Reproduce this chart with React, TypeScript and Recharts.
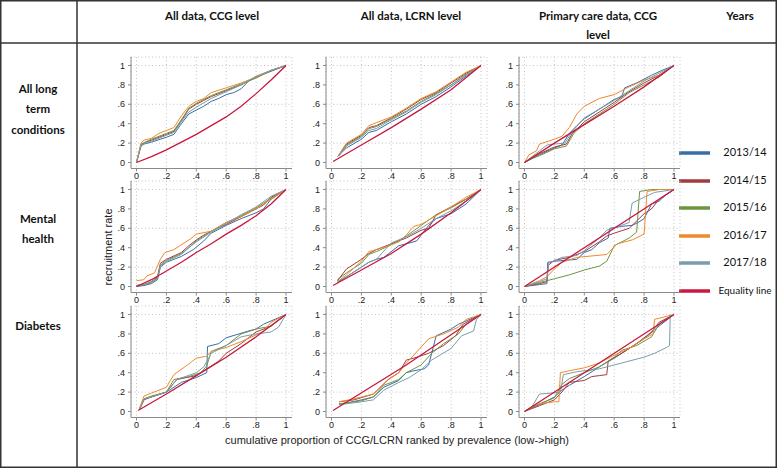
import { LineChart, Line, XAxis, YAxis, CartesianGrid } from "recharts";

type P = [number, number][];

const YEARS = ["2013/14", "2014/15", "2015/16", "2016/17", "2017/18"];
const YEAR_COLORS = ["#3a6ea5", "#a23b3e", "#6f9440", "#ec8a2a", "#7a9dab"];
const EQ_LABEL = "Equality line";
const EQ_COLOR = "#c8183f";

const COL_TITLES = [["All data, CCG level"], ["All data, LCRN level"], ["Primary care data, CCG", "level"]];
const ROW_TITLES = [["All long", "term", "conditions"], ["Mental", "health"], ["Diabetes"]];
const TICKS = [0, 0.2, 0.4, 0.6, 0.8, 1];
const Y_TITLE = "recruitment rate";
const X_TITLE = "cumulative proportion of CCG/LCRN ranked by prevalence (low->high)";

const DIAGONAL: P = [[0, 0], [1, 1]];

// All long term conditions, all data, CCG
const LTC_CCG_1314: P = [[0, 0], [0.03, 0.17], [0.05, 0.19], [0.1, 0.21], [0.2, 0.26], [0.25, 0.29], [0.3, 0.4], [0.35, 0.5], [0.4, 0.54], [0.45, 0.58], [0.5, 0.63], [0.55, 0.66], [0.6, 0.7], [0.65, 0.72], [0.7, 0.76], [0.75, 0.84], [0.8, 0.88], [0.9, 0.94], [1, 1]];
const LTC_CCG_1415: P = [[0, 0], [0.03, 0.18], [0.06, 0.21], [0.1, 0.23], [0.2, 0.29], [0.25, 0.32], [0.3, 0.43], [0.35, 0.55], [0.4, 0.6], [0.45, 0.64], [0.5, 0.68], [0.6, 0.74], [0.7, 0.8], [0.8, 0.88], [0.9, 0.95], [1, 1]];
const LTC_CCG_1516: P = [[0, 0], [0.03, 0.19], [0.06, 0.21], [0.1, 0.24], [0.2, 0.3], [0.25, 0.33], [0.3, 0.44], [0.35, 0.56], [0.4, 0.61], [0.5, 0.69], [0.6, 0.75], [0.7, 0.81], [0.8, 0.87], [0.9, 0.95], [1, 1]];
const LTC_CCG_1617: P = [[0, 0], [0.03, 0.2], [0.05, 0.23], [0.1, 0.25], [0.15, 0.3], [0.2, 0.33], [0.25, 0.36], [0.3, 0.48], [0.35, 0.58], [0.4, 0.63], [0.45, 0.66], [0.5, 0.72], [0.6, 0.77], [0.7, 0.82], [0.8, 0.88], [0.9, 0.95], [1, 1]];
const LTC_CCG_1718: P = [[0, 0], [0.03, 0.18], [0.06, 0.2], [0.1, 0.22], [0.2, 0.28], [0.25, 0.31], [0.3, 0.42], [0.35, 0.52], [0.4, 0.57], [0.5, 0.66], [0.6, 0.73], [0.7, 0.8], [0.8, 0.89], [0.9, 0.95], [1, 1]];
const LTC_CCG_EQ: P = [[0, 0], [0.1, 0.06], [0.2, 0.13], [0.3, 0.21], [0.4, 0.29], [0.5, 0.38], [0.6, 0.47], [0.7, 0.58], [0.8, 0.71], [0.9, 0.85], [1, 1]];

// All long term conditions, all data, LCRN
const LTC_LCRN_1314: P = [[0.04, 0.06], [0.1, 0.15], [0.2, 0.24], [0.25, 0.31], [0.3, 0.33], [0.4, 0.42], [0.5, 0.5], [0.6, 0.6], [0.7, 0.68], [0.8, 0.78], [0.9, 0.89], [1, 1]];
const LTC_LCRN_1415: P = [[0.05, 0.08], [0.1, 0.19], [0.2, 0.28], [0.25, 0.36], [0.3, 0.38], [0.4, 0.46], [0.5, 0.55], [0.6, 0.65], [0.7, 0.72], [0.8, 0.82], [0.9, 0.92], [1, 1]];
const LTC_LCRN_1516: P = [[0.05, 0.07], [0.1, 0.18], [0.2, 0.27], [0.25, 0.35], [0.3, 0.37], [0.4, 0.45], [0.5, 0.53], [0.6, 0.63], [0.7, 0.71], [0.8, 0.8], [0.9, 0.91], [1, 1]];
const LTC_LCRN_1617: P = [[0.05, 0.08], [0.1, 0.2], [0.2, 0.29], [0.25, 0.38], [0.3, 0.41], [0.4, 0.47], [0.5, 0.56], [0.6, 0.66], [0.7, 0.73], [0.8, 0.83], [0.9, 0.93], [1, 1]];
const LTC_LCRN_1718: P = [[0.05, 0.07], [0.1, 0.17], [0.2, 0.26], [0.25, 0.33], [0.3, 0.35], [0.4, 0.44], [0.5, 0.52], [0.6, 0.62], [0.7, 0.7], [0.8, 0.8], [0.9, 0.9], [1, 1]];
const LTC_LCRN_EQ: P = [[0.01, 0.01], [0.2, 0.18], [0.4, 0.36], [0.6, 0.55], [0.8, 0.75], [1, 1]];

// All long term conditions, primary care data, CCG
const LTC_PC_1314: P = [[0, 0], [0.05, 0.04], [0.1, 0.08], [0.2, 0.15], [0.25, 0.18], [0.3, 0.3], [0.35, 0.38], [0.4, 0.45], [0.5, 0.55], [0.6, 0.65], [0.65, 0.68], [0.67, 0.77], [0.75, 0.82], [0.85, 0.9], [0.92, 0.95], [1, 1]];
const LTC_PC_1415: P = [[0, 0], [0.05, 0.05], [0.1, 0.09], [0.2, 0.16], [0.28, 0.19], [0.32, 0.3], [0.4, 0.42], [0.5, 0.52], [0.6, 0.62], [0.7, 0.73], [0.8, 0.82], [0.9, 0.9], [1, 1]];
const LTC_PC_1516: P = [[0, 0], [0.05, 0.04], [0.1, 0.07], [0.2, 0.14], [0.28, 0.17], [0.33, 0.3], [0.4, 0.4], [0.5, 0.5], [0.6, 0.6], [0.7, 0.72], [0.8, 0.8], [0.9, 0.88], [1, 1]];
const LTC_PC_1617: P = [[0, 0], [0.03, 0.08], [0.08, 0.12], [0.1, 0.19], [0.2, 0.24], [0.25, 0.27], [0.3, 0.36], [0.35, 0.5], [0.4, 0.58], [0.5, 0.66], [0.6, 0.7], [0.7, 0.78], [0.8, 0.85], [0.9, 0.9], [1, 1]];
const LTC_PC_1718: P = [[0, 0], [0.05, 0.06], [0.1, 0.12], [0.15, 0.18], [0.2, 0.19], [0.27, 0.2], [0.32, 0.32], [0.4, 0.46], [0.5, 0.55], [0.6, 0.64], [0.7, 0.74], [0.8, 0.84], [0.9, 0.92], [1, 1]];
const LTC_PC_EQ: P = [[0, 0], [0.2, 0.2], [0.4, 0.39], [0.6, 0.58], [0.8, 0.78], [1, 1]];

// Mental health, all data, CCG
const MH_CCG_1314: P = [[0, 0], [0.05, 0.01], [0.1, 0.03], [0.14, 0.07], [0.16, 0.2], [0.2, 0.25], [0.3, 0.31], [0.38, 0.38], [0.45, 0.47], [0.5, 0.55], [0.6, 0.63], [0.7, 0.7], [0.8, 0.76], [0.85, 0.8], [0.9, 0.9], [1, 1]];
const MH_CCG_1415: P = [[0, 0.01], [0.05, 0.02], [0.1, 0.05], [0.14, 0.1], [0.16, 0.24], [0.2, 0.28], [0.3, 0.35], [0.35, 0.42], [0.4, 0.48], [0.45, 0.53], [0.5, 0.57], [0.6, 0.64], [0.7, 0.72], [0.8, 0.8], [0.85, 0.84], [0.9, 0.92], [1, 1]];
const MH_CCG_1516: P = [[0, 0.01], [0.05, 0.02], [0.1, 0.04], [0.14, 0.09], [0.16, 0.22], [0.2, 0.27], [0.3, 0.34], [0.35, 0.4], [0.4, 0.47], [0.5, 0.57], [0.6, 0.66], [0.7, 0.73], [0.8, 0.81], [0.9, 0.91], [1, 1]];
const MH_CCG_1617: P = [[0, 0.06], [0.05, 0.07], [0.07, 0.11], [0.12, 0.14], [0.16, 0.28], [0.19, 0.35], [0.25, 0.38], [0.29, 0.42], [0.36, 0.49], [0.4, 0.54], [0.5, 0.57], [0.6, 0.66], [0.7, 0.72], [0.8, 0.8], [0.85, 0.85], [0.9, 0.9], [1, 1]];
const MH_CCG_1718: P = [[0, 0.01], [0.05, 0.02], [0.1, 0.04], [0.14, 0.08], [0.16, 0.21], [0.2, 0.26], [0.3, 0.33], [0.35, 0.4], [0.4, 0.46], [0.5, 0.56], [0.6, 0.65], [0.7, 0.74], [0.8, 0.82], [0.9, 0.93], [1, 1]];
const MH_CCG_EQ: P = [[0, 0], [0.1, 0.07], [0.2, 0.16], [0.3, 0.25], [0.4, 0.35], [0.5, 0.44], [0.6, 0.54], [0.7, 0.63], [0.8, 0.73], [0.9, 0.85], [1, 1]];

// Mental health, all data, LCRN
const MH_LCRN_1314: P = [[0.04, 0.04], [0.1, 0.1], [0.2, 0.2], [0.25, 0.25], [0.3, 0.28], [0.35, 0.3], [0.45, 0.42], [0.5, 0.44], [0.57, 0.47], [0.65, 0.63], [0.7, 0.7], [0.8, 0.75], [0.9, 0.85], [1, 1]];
const MH_LCRN_1415: P = [[0.04, 0.06], [0.1, 0.18], [0.2, 0.28], [0.25, 0.34], [0.3, 0.38], [0.4, 0.44], [0.5, 0.5], [0.6, 0.58], [0.65, 0.6], [0.7, 0.74], [0.8, 0.82], [0.9, 0.9], [1, 1]];
const MH_LCRN_1516: P = [[0.04, 0.07], [0.1, 0.14], [0.2, 0.24], [0.25, 0.33], [0.3, 0.36], [0.4, 0.43], [0.5, 0.52], [0.6, 0.63], [0.7, 0.74], [0.8, 0.81], [0.9, 0.9], [1, 1]];
const MH_LCRN_1617: P = [[0.04, 0.05], [0.1, 0.12], [0.2, 0.26], [0.25, 0.36], [0.3, 0.38], [0.4, 0.43], [0.45, 0.46], [0.5, 0.53], [0.55, 0.62], [0.6, 0.64], [0.7, 0.73], [0.8, 0.82], [0.9, 0.92], [1, 1]];
const MH_LCRN_1718: P = [[0.04, 0.05], [0.1, 0.1], [0.2, 0.2], [0.25, 0.25], [0.3, 0.28], [0.4, 0.45], [0.5, 0.51], [0.6, 0.6], [0.7, 0.7], [0.8, 0.78], [0.9, 0.88], [1, 1]];
const MH_LCRN_EQ: P = [[0.01, 0.01], [0.2, 0.17], [0.4, 0.34], [0.6, 0.54], [0.8, 0.76], [1, 1]];

// Mental health, primary care data, CCG
const MH_PC_1314: P = [[0, 0], [0.1, 0.02], [0.15, 0.03], [0.155, 0.25], [0.2, 0.26], [0.35, 0.28], [0.4, 0.35], [0.45, 0.38], [0.5, 0.45], [0.56, 0.5], [0.57, 0.6], [0.65, 0.62], [0.72, 0.63], [0.76, 0.66], [0.8, 0.7], [0.85, 0.85], [0.9, 0.88], [0.95, 0.95], [1, 1]];
const MH_PC_1415: P = [[0, 0], [0.1, 0.03], [0.15, 0.05], [0.16, 0.22], [0.2, 0.27], [0.3, 0.3], [0.4, 0.36], [0.5, 0.46], [0.55, 0.52], [0.6, 0.55], [0.7, 0.6], [0.8, 0.75], [0.85, 0.8], [0.9, 0.9], [1, 1]];
const MH_PC_1516: P = [[0, 0], [0.1, 0.04], [0.2, 0.08], [0.3, 0.12], [0.4, 0.17], [0.5, 0.21], [0.55, 0.26], [0.6, 0.42], [0.7, 0.5], [0.75, 0.56], [0.77, 0.98], [0.85, 1], [1, 1]];
const MH_PC_1617: P = [[0, 0], [0.1, 0.06], [0.15, 0.1], [0.2, 0.18], [0.25, 0.25], [0.35, 0.3], [0.55, 0.33], [0.62, 0.44], [0.72, 0.48], [0.8, 0.54], [0.82, 0.98], [0.9, 1], [1, 1]];
const MH_PC_1718: P = [[0, 0], [0.1, 0.05], [0.15, 0.08], [0.16, 0.24], [0.25, 0.3], [0.35, 0.32], [0.4, 0.37], [0.5, 0.5], [0.55, 0.58], [0.65, 0.63], [0.7, 0.66], [0.72, 0.86], [0.8, 0.92], [0.87, 0.97], [1, 1]];

// Diabetes, all data, CCG
const DM_CCG_1314: P = [[0.02, 0.02], [0.05, 0.13], [0.1, 0.15], [0.2, 0.2], [0.3, 0.3], [0.4, 0.35], [0.47, 0.4], [0.475, 0.67], [0.55, 0.7], [0.6, 0.76], [0.75, 0.83], [0.8, 0.85], [0.85, 0.9], [1, 1]];
const DM_CCG_1415: P = [[0.02, 0.02], [0.05, 0.12], [0.1, 0.15], [0.2, 0.2], [0.27, 0.33], [0.4, 0.37], [0.48, 0.45], [0.55, 0.52], [0.6, 0.6], [0.7, 0.7], [0.8, 0.82], [0.9, 0.88], [1, 1]];
const DM_CCG_1516: P = [[0.02, 0.03], [0.05, 0.13], [0.1, 0.16], [0.2, 0.2], [0.25, 0.33], [0.35, 0.36], [0.43, 0.4], [0.47, 0.47], [0.5, 0.62], [0.6, 0.68], [0.7, 0.8], [0.8, 0.85], [0.9, 0.88], [1, 1]];
const DM_CCG_1617: P = [[0.02, 0.03], [0.05, 0.16], [0.1, 0.19], [0.2, 0.25], [0.25, 0.38], [0.35, 0.49], [0.4, 0.55], [0.47, 0.57], [0.5, 0.62], [0.6, 0.66], [0.7, 0.72], [0.8, 0.79], [0.85, 0.83], [0.9, 0.92], [1, 1]];
const DM_CCG_1718: P = [[0.02, 0.02], [0.05, 0.13], [0.1, 0.15], [0.2, 0.2], [0.27, 0.33], [0.4, 0.4], [0.45, 0.46], [0.5, 0.6], [0.6, 0.68], [0.7, 0.77], [0.8, 0.8], [0.9, 0.82], [0.95, 0.87], [1, 1]];
const DM_CCG_EQ: P = [[0.01, 0.01], [0.2, 0.18], [0.4, 0.37], [0.6, 0.56], [0.8, 0.77], [1, 1]];

// Diabetes, all data, LCRN
const DM_LCRN_1314: P = [[0.05, 0.07], [0.2, 0.12], [0.28, 0.15], [0.35, 0.25], [0.45, 0.32], [0.5, 0.4], [0.55, 0.42], [0.62, 0.44], [0.65, 0.48], [0.7, 0.78], [0.8, 0.85], [0.85, 0.9], [1, 1]];
const DM_LCRN_1415: P = [[0.05, 0.1], [0.15, 0.12], [0.28, 0.18], [0.38, 0.33], [0.45, 0.4], [0.5, 0.53], [0.55, 0.55], [0.65, 0.6], [0.75, 0.68], [0.83, 0.78], [0.88, 0.9], [1, 1]];
const DM_LCRN_1516: P = [[0.05, 0.08], [0.2, 0.11], [0.28, 0.15], [0.35, 0.27], [0.45, 0.33], [0.5, 0.4], [0.6, 0.48], [0.67, 0.6], [0.75, 0.7], [0.85, 0.8], [0.9, 0.9], [1, 1]];
const DM_LCRN_1617: P = [[0.05, 0.1], [0.15, 0.13], [0.28, 0.18], [0.38, 0.33], [0.45, 0.4], [0.5, 0.5], [0.55, 0.58], [0.65, 0.75], [0.75, 0.8], [0.85, 0.87], [0.9, 0.95], [1, 1]];
const DM_LCRN_1718: P = [[0.05, 0.07], [0.2, 0.1], [0.28, 0.12], [0.35, 0.22], [0.45, 0.3], [0.52, 0.35], [0.6, 0.43], [0.67, 0.53], [0.8, 0.65], [0.87, 0.78], [0.95, 0.83], [0.97, 0.95], [1, 1]];
const DM_LCRN_EQ: P = [[0.01, 0.01], [0.5, 0.48], [1, 1]];

// Diabetes, primary care data, CCG
const DM_PC_1314: P = [[0, 0], [0.05, 0.04], [0.1, 0.07], [0.2, 0.15], [0.25, 0.22], [0.3, 0.27], [0.4, 0.36], [0.5, 0.46], [0.6, 0.55], [0.7, 0.65], [0.8, 0.75], [0.9, 0.88], [1, 1]];
const DM_PC_1415: P = [[0, 0], [0.05, 0.03], [0.1, 0.06], [0.2, 0.12], [0.25, 0.2], [0.3, 0.3], [0.4, 0.32], [0.45, 0.36], [0.5, 0.37], [0.55, 0.38], [0.56, 0.52], [0.65, 0.6], [0.75, 0.7], [0.85, 0.82], [0.9, 0.92], [1, 1]];
const DM_PC_1516: P = [[0, 0], [0.05, 0.04], [0.1, 0.08], [0.2, 0.14], [0.25, 0.28], [0.3, 0.34], [0.4, 0.4], [0.5, 0.46], [0.6, 0.56], [0.65, 0.63], [0.75, 0.68], [0.85, 0.77], [0.9, 0.9], [1, 1]];
const DM_PC_1617: P = [[0, 0], [0.05, 0.05], [0.1, 0.08], [0.2, 0.1], [0.23, 0.1], [0.24, 0.4], [0.3, 0.42], [0.4, 0.45], [0.5, 0.5], [0.6, 0.58], [0.7, 0.65], [0.8, 0.75], [0.86, 0.8], [0.87, 0.95], [1, 1]];
const DM_PC_1718: P = [[0, 0], [0.05, 0.05], [0.1, 0.18], [0.18, 0.19], [0.24, 0.2], [0.26, 0.38], [0.35, 0.41], [0.5, 0.44], [0.6, 0.48], [0.7, 0.52], [0.8, 0.56], [0.87, 0.6], [0.95, 0.66], [0.97, 0.68], [0.975, 1]];

const PANELS = [
  { row: 0, col: 0, years: [LTC_CCG_1314, LTC_CCG_1415, LTC_CCG_1516, LTC_CCG_1617, LTC_CCG_1718], eq: LTC_CCG_EQ },
  { row: 0, col: 1, years: [LTC_LCRN_1314, LTC_LCRN_1415, LTC_LCRN_1516, LTC_LCRN_1617, LTC_LCRN_1718], eq: LTC_LCRN_EQ },
  { row: 0, col: 2, years: [LTC_PC_1314, LTC_PC_1415, LTC_PC_1516, LTC_PC_1617, LTC_PC_1718], eq: LTC_PC_EQ },
  { row: 1, col: 0, years: [MH_CCG_1314, MH_CCG_1415, MH_CCG_1516, MH_CCG_1617, MH_CCG_1718], eq: MH_CCG_EQ },
  { row: 1, col: 1, years: [MH_LCRN_1314, MH_LCRN_1415, MH_LCRN_1516, MH_LCRN_1617, MH_LCRN_1718], eq: MH_LCRN_EQ },
  { row: 1, col: 2, years: [MH_PC_1314, MH_PC_1415, MH_PC_1516, MH_PC_1617, MH_PC_1718], eq: DIAGONAL },
  { row: 2, col: 0, years: [DM_CCG_1314, DM_CCG_1415, DM_CCG_1516, DM_CCG_1617, DM_CCG_1718], eq: DM_CCG_EQ },
  { row: 2, col: 1, years: [DM_LCRN_1314, DM_LCRN_1415, DM_LCRN_1516, DM_LCRN_1617, DM_LCRN_1718], eq: DM_LCRN_EQ },
  { row: 2, col: 2, years: [DM_PC_1314, DM_PC_1415, DM_PC_1516, DM_PC_1617, DM_PC_1718], eq: DIAGONAL },
];

// layout (px): where value 0 sits on x, and where value 1 sits on y
const COL_X0 = [136.5, 331, 524];
const ROW_Y1 = [65.7, 189.8, 314.8];
const UNIT_X = 149.5;
const UNIT_Y = 97;
const PAD_L = 5.5, PAD_R = 6, PAD_T = 8.5, PAD_B = 6;
const Y_AXIS_W = 26, X_AXIS_H = 18, M_TOP = 2, M_RIGHT = 2;

const SANS = "'Liberation Sans', Arial, sans-serif";
const HUMANIST = "Lato, 'Open Sans', sans-serif";

const fmt = (v: number) => (v === 0 ? "0" : v === 1 ? "1" : v.toFixed(1).replace(/^0/, ""));
const toPts = (p: P) => p.map(([x, y]) => ({ x, y }));

function Panel({ row, col, years, eq }: { row: number; col: number; years: P[]; eq: P }) {
  const plotW = UNIT_X + PAD_L + PAD_R;
  const plotH = UNIT_Y + PAD_T + PAD_B;
  const w = Y_AXIS_W + plotW + M_RIGHT;
  const h = M_TOP + plotH + X_AXIS_H;
  const left = COL_X0[col] - PAD_L - Y_AXIS_W;
  const top = ROW_Y1[row] - PAD_T - M_TOP;
  const tickStyle = { fontSize: 9, fill: "#222", fontFamily: SANS };
  return (
    <div style={{ position: "absolute", left, top }}>
      <LineChart width={w} height={h} margin={{ top: M_TOP, right: M_RIGHT, left: 0, bottom: 0 }}>
        <CartesianGrid stroke="#c4c4c4" strokeDasharray="1 2.5" />
        <XAxis
          type="number"
          dataKey="x"
          domain={[-PAD_L / UNIT_X, 1 + PAD_R / UNIT_X]}
          ticks={TICKS}
          tickFormatter={fmt}
          height={X_AXIS_H}
          tickSize={3}
          tickMargin={1}
          stroke="#8a8a8a"
          tick={tickStyle}
          allowDataOverflow
        />
        <YAxis
          type="number"
          dataKey="y"
          domain={[-PAD_B / UNIT_Y, 1 + PAD_T / UNIT_Y]}
          ticks={TICKS}
          tickFormatter={fmt}
          width={Y_AXIS_W}
          tickSize={3}
          tickMargin={3}
          stroke="#8a8a8a"
          tick={tickStyle}
          allowDataOverflow
        />
        {years.map((s, i) => (
          <Line
            key={YEARS[i]}
            data={toPts(s)}
            dataKey="y"
            type="linear"
            stroke={YEAR_COLORS[i]}
            strokeWidth={1}
            dot={false}
            isAnimationActive={false}
          />
        ))}
        <Line data={toPts(eq)} dataKey="y" type="linear" stroke={EQ_COLOR} strokeWidth={1.3} dot={false} isAnimationActive={false} />
      </LineChart>
    </div>
  );
}

const COL_TITLE_X = [212, 411, 598];
const ROW_TITLE_Y = [90, 220, 327];
const LEGEND_Y = [153, 181, 208, 236, 263, 291];

export default function App() {
  const legend = [...YEARS.map((y, i) => ({ label: y, color: YEAR_COLORS[i] })), { label: EQ_LABEL, color: EQ_COLOR }];
  return (
    <div style={{ position: "absolute", left: 0, top: 0, width: 778, height: 469, background: "#fff", overflow: "hidden" }}>
      <svg width={778} height={469} style={{ position: "absolute", left: 0, top: 0 }}>
        <rect x={0.75} y={0.75} width={775.5} height={466.5} fill="none" stroke="#333" strokeWidth={1.5} />
        <line x1={77} y1={0} x2={77} y2={468} stroke="#333" strokeWidth={1.5} />
        <line x1={0} y1={43} x2={777} y2={43} stroke="#333" strokeWidth={1.5} />
        {COL_TITLES.map((lines, c) =>
          lines.map((t, k) => (
            <text key={`${c}-${k}`} x={COL_TITLE_X[c]} y={17 + k * 19} textAnchor="middle" dominantBaseline="middle"
              fontFamily={HUMANIST} fontWeight={700} fontSize={11.5} fill="#111">{t}</text>
          ))
        )}
        <text x={740} y={17} textAnchor="middle" dominantBaseline="middle" fontFamily={HUMANIST} fontWeight={700} fontSize={11.5} fill="#111">Years</text>
        {ROW_TITLES.map((lines, r) =>
          lines.map((t, k) => (
            <text key={`r${r}-${k}`} x={38} y={ROW_TITLE_Y[r] + k * 20.5} textAnchor="middle" dominantBaseline="middle"
              fontFamily={HUMANIST} fontWeight={700} fontSize={11.5} fill="#111">{t}</text>
          ))
        )}
        <text x={109} y={247} transform="rotate(-90 109 247)" textAnchor="middle" dominantBaseline="middle"
          fontFamily={SANS} fontSize={11} fill="#222">{Y_TITLE}</text>
        <text x={397} y={441} textAnchor="middle" dominantBaseline="middle" fontFamily={SANS} fontSize={11} fill="#222">{X_TITLE}</text>
        {legend.map((l, i) => (
          <g key={l.label}>
            <line x1={679} y1={LEGEND_Y[i]} x2={710} y2={LEGEND_Y[i]} stroke={l.color} strokeWidth={3.5} />
            <text x={745} y={LEGEND_Y[i]} textAnchor="middle" dominantBaseline="middle" fontFamily={HUMANIST}
              fontSize={i === 5 ? 10 : 11} fill="#111">{l.label}</text>
          </g>
        ))}
      </svg>
      {PANELS.map((p) => (
        <Panel key={`${p.row}-${p.col}`} {...p} />
      ))}
    </div>
  );
}
